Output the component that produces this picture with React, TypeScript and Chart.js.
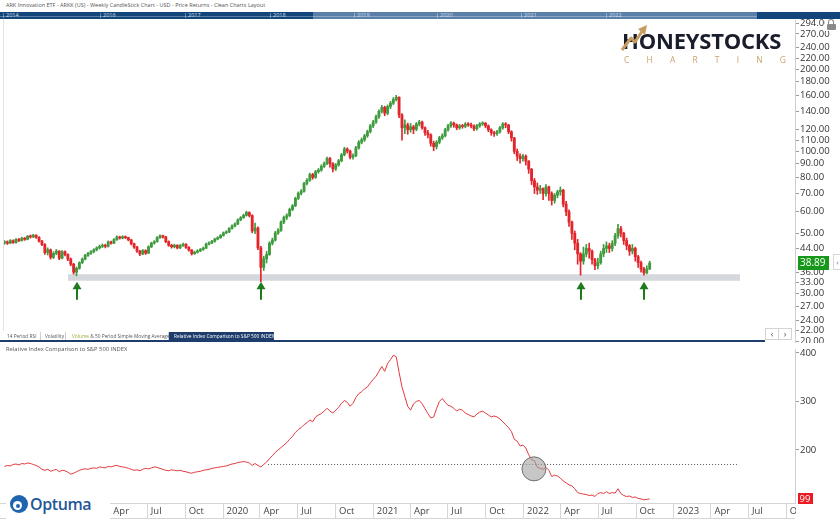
import React, { useEffect, useRef } from "react";
import { Chart, registerables } from "chart.js";

Chart.register(...registerables);

// ---------------- data ----------------
const FIRST_WEEK = 2018.546; // decimal year of first weekly candle
const WEEK = 7 / 365.25;

const opens = [
  46.0,46.5,46.0,47.0,46.2,47.5,47.0,48.0,47.5,48.8,
  48.5,49.2,48.3,46.8,45.5,42.5,43.5,40.8,42.2,43.0,
  40.5,42.8,41.8,40.2,38.5,36.0,37.2,39.0,40.2,41.5,
  42.2,42.8,43.5,44.2,44.8,45.2,44.8,46.5,46.0,47.4,
  48.5,48.0,48.6,48.2,47.3,45.8,44.5,43.0,42.0,43.2,
  42.3,44.6,46.0,46.6,48.2,49.0,48.5,46.6,45.2,44.6,
  45.2,44.2,45.1,45.6,44.4,43.4,42.1,42.6,43.1,43.6,
  44.1,45.6,46.1,46.7,47.6,48.2,49.1,50.2,50.6,52.1,
  53.2,54.1,56.0,57.1,58.2,59.6,58.1,51.0,52.3,44.2,
  37.5,40.3,41.8,46.0,47.2,50.1,51.2,55.0,57.2,58.1,
  61.2,63.1,67.2,70.1,71.3,76.2,78.3,82.1,80.2,84.2,
  85.3,88.1,90.2,94.1,90.0,86.2,89.1,92.3,97.1,102.0,
  100.1,95.2,96.3,103.0,108.0,110.2,114.0,118.1,124.0,128.2,
  134.0,140.2,145.0,138.1,146.0,150.2,155.0,158.0,136.0,122.0,
  125.0,120.0,123.0,120.5,126.0,128.0,122.0,117.0,115.0,107.0,
  104.0,108.0,112.0,114.0,120.0,124.0,127.0,125.0,122.0,124.0,
  123.5,126.0,125.0,124.0,121.0,124.0,126.0,127.0,124.0,120.0,
  117.0,116.0,118.0,122.0,126.0,125.0,118.0,112.0,100.0,96.0,
  94.0,96.0,92.0,86.0,78.0,74.0,72.0,73.0,70.0,74.0,
  70.0,66.0,69.0,71.0,72.0,64.0,60.0,55.0,50.0,46.0,
  42.0,39.5,42.0,44.0,43.0,40.0,38.0,39.0,42.0,44.0,
  45.0,44.0,46.0,49.0,52.0,50.0,47.0,45.0,43.0,44.0,
  41.0,39.0,37.0,35.8,37.0,
];
const highs = [
  47.0,46.9,47.4,47.3,47.8,47.9,48.4,48.3,49.1,49.3,
  49.6,49.4,48.6,47.1,45.8,44.2,43.8,42.8,43.6,43.2,
  43.2,43.1,42.0,40.6,38.8,37.6,39.3,40.6,41.9,42.6,
  43.2,43.9,44.6,45.3,45.7,45.6,46.9,46.8,47.8,48.9,
  48.8,49.0,48.9,48.4,47.5,46.0,44.8,43.3,43.6,43.5,
  45.0,46.4,47.0,48.6,49.4,49.3,48.8,46.9,45.6,45.6,
  45.4,45.5,46.0,45.8,44.7,43.6,43.0,43.5,44.0,44.5,
  46.0,46.5,47.1,48.0,48.6,49.5,50.6,51.1,52.5,53.7,
  54.6,56.5,57.6,58.8,60.3,60.0,58.5,54.5,52.8,44.8,
  41.2,42.9,46.6,48.0,50.8,52.0,55.6,57.9,59.0,61.9,
  63.8,67.9,70.9,72.3,77.0,79.4,83.2,83.0,85.1,86.5,
  89.2,91.5,95.3,95.0,91.0,90.2,93.4,98.2,103.5,103.0,
  101.0,98.0,104.2,109.5,112.0,115.5,119.6,125.5,130.0,135.8,
  142.0,147.5,146.5,148.0,152.5,157.5,160.5,158.5,137.5,130.5,
  127.0,126.5,124.5,127.5,130.0,129.0,123.0,119.5,116.0,109.0,
  109.5,113.5,116.0,121.5,125.5,128.5,128.0,126.0,125.5,125.5,
  127.5,127.5,127.0,125.0,125.5,127.5,128.5,127.5,125.0,121.0,
  118.5,119.5,123.5,127.5,127.5,125.5,119.0,112.5,102.0,98.0,
  97.5,97.0,92.5,86.5,79.5,76.5,75.0,73.5,75.5,74.5,
  71.0,70.0,72.0,74.0,72.5,65.5,61.0,55.5,51.0,47.5,
  42.5,44.5,45.5,46.0,43.5,40.5,40.5,43.0,45.5,46.5,
  46.0,47.0,50.0,54.0,53.0,50.5,48.0,45.5,45.5,44.5,
  41.5,39.5,37.5,38.0,39.5,
];
const lows = [
  45.6,45.5,45.8,45.9,46.0,46.6,46.8,47.1,47.3,48.0,
  48.2,47.9,46.4,45.0,41.8,41.6,40.2,40.4,41.7,40.0,
  40.3,41.3,39.7,38.0,35.4,34.9,36.9,38.7,39.9,41.1,
  41.8,42.4,43.1,43.8,44.3,44.2,44.5,45.6,45.8,47.1,
  47.6,47.7,47.8,46.9,45.3,44.0,42.5,41.4,41.7,41.8,
  42.1,44.3,45.6,46.4,47.9,48.0,46.2,44.8,44.1,44.2,
  43.8,43.9,44.8,44.0,43.0,41.6,41.8,42.3,42.8,43.3,
  43.9,45.3,45.8,46.4,47.3,47.9,48.8,49.8,50.3,51.8,
  52.8,53.8,55.6,56.7,57.8,57.4,50.2,49.8,43.5,33.2,
  36.5,38.9,41.5,45.3,46.8,49.5,50.8,54.3,56.2,57.6,
  60.5,62.6,66.5,69.2,70.8,75.2,77.6,79.0,79.6,83.1,
  84.5,87.2,89.4,87.5,84.0,85.0,88.2,91.5,96.2,98.5,
  93.8,93.5,95.5,101.8,106.5,108.8,112.5,116.8,122.2,126.5,
  132.0,138.2,135.0,136.2,143.5,148.5,153.0,133.0,110.0,116.0,
  115.5,117.5,116.0,119.0,124.0,120.5,114.5,112.0,104.5,100.5,
  102.0,106.5,110.5,113.0,118.5,122.5,122.5,120.0,120.5,121.5,
  122.0,123.5,122.0,119.0,119.5,122.5,124.5,122.0,118.0,114.5,
  113.5,114.5,116.5,120.5,122.0,116.0,109.0,98.0,92.5,90.5,
  92.0,89.0,83.0,75.5,70.0,69.5,70.0,66.5,68.5,66.0,
  63.5,64.5,67.5,69.0,62.5,58.0,53.0,47.5,43.5,38.5,
  35.1,38.5,41.0,40.5,38.5,36.8,37.0,38.5,41.0,42.5,
  42.5,43.0,45.0,48.0,48.5,45.5,43.5,41.5,42.0,39.5,
  37.5,36.0,35.1,35.5,36.8,
];
const closes = [
  46.5,46.0,47.0,46.2,47.5,47.0,48.0,47.5,48.8,48.5,
  49.2,48.3,46.8,45.5,42.5,43.5,40.8,42.2,43.0,40.5,
  42.8,41.8,40.2,38.5,36.0,37.2,39.0,40.2,41.5,42.2,
  42.8,43.5,44.2,44.8,45.2,44.8,46.5,46.0,47.4,48.5,
  48.0,48.6,48.2,47.3,45.8,44.5,43.0,42.0,43.2,42.3,
  44.6,46.0,46.6,48.2,49.0,48.5,46.6,45.2,44.6,45.2,
  44.2,45.1,45.6,44.4,43.4,42.1,42.6,43.1,43.6,44.1,
  45.6,46.1,46.7,47.6,48.2,49.1,50.2,50.6,52.1,53.2,
  54.1,56.0,57.1,58.2,59.6,58.1,51.0,52.3,44.2,37.5,
  40.3,41.8,46.0,47.2,50.1,51.2,55.0,57.2,58.1,61.2,
  63.1,67.2,70.1,71.3,76.2,78.3,82.1,80.2,84.2,85.3,
  88.1,90.2,94.1,90.0,86.2,89.1,92.3,97.1,102.0,100.1,
  95.2,96.3,103.0,108.0,110.2,114.0,118.1,124.0,128.2,134.0,
  140.2,145.0,138.1,146.0,150.2,155.0,158.0,136.0,122.0,125.0,
  120.0,123.0,120.5,126.0,128.0,122.0,117.0,115.0,107.0,104.0,
  108.0,112.0,114.0,120.0,124.0,127.0,125.0,122.0,124.0,123.5,
  126.0,125.0,124.0,121.0,124.0,126.0,127.0,124.0,120.0,117.0,
  116.0,118.0,122.0,126.0,125.0,118.0,112.0,100.0,96.0,94.0,
  96.0,92.0,86.0,78.0,74.0,72.0,73.0,70.0,74.0,70.0,
  66.0,69.0,71.0,72.0,64.0,60.0,55.0,50.0,46.0,42.0,
  39.5,42.0,44.0,43.0,40.0,38.0,39.0,42.0,44.0,45.0,
  44.0,46.0,49.0,52.0,50.0,47.0,45.0,43.0,44.0,41.0,
  39.0,37.0,35.8,37.0,38.89,
];
const relative = [
  166,168,167,170,171,169,172,171,173,172,
  170,168,165,160,158,160,156,158,160,155,
  158,157,154,150,152,155,158,160,161,160,
  162,163,162,165,164,163,166,165,167,168,
  166,165,164,162,160,158,159,157,160,162,
  161,163,165,164,162,160,158,157,159,158,
  157,158,156,155,153,152,154,155,156,158,
  159,160,162,163,164,165,166,167,169,171,
  172,174,175,176,175,173,168,172,168,165,
  170,175,182,188,195,200,205,210,215,222,
  228,236,242,246,252,256,262,258,268,272,
  275,280,286,280,276,282,288,296,302,298,
  290,296,308,316,320,326,330,338,345,352,
  362,372,362,378,386,395,392,360,330,310,
  290,282,295,300,302,295,285,275,266,268,
  285,300,306,298,292,290,286,280,284,282,
  276,273,270,268,274,278,280,276,272,268,
  270,268,264,258,252,246,238,222,218,208,
  210,204,190,180,178,164,162,160,164,158,
  145,148,146,142,136,132,128,126,120,112,
  110,109,108,106,107,104,110,112,110,114,
  110,112,111,120,110,106,104,105,102,103,
  100,99,97,98,99,
];

const priceTicks = [294, 270, 240, 220, 200, 180, 160, 140, 120, 110, 100, 90, 80, 70, 60, 50, 44, 36, 33, 30, 27, 24, 22, 20];
const relTicks = [200, 300, 400];
const axisDates = [2018.748, 2019.0, 2019.247, 2019.496, 2019.748, 2020.0, 2020.246, 2020.497, 2020.749, 2021.0, 2021.247, 2021.496, 2021.748, 2022.0, 2022.247, 2022.496, 2022.748, 2023.0, 2023.247, 2023.496, 2023.748];
const axisLabels = ["Oct", "2019", "Apr", "Jul", "Oct", "2020", "Apr", "Jul", "Oct", "2021", "Apr", "Jul", "Oct", "2022", "Apr", "Jul", "Oct", "2023", "Apr", "Jul", "Oct"];
const navYears = ["2014", "2016", "2017", "2018", "2019", "2020", "2021", "2022"];
const navYearPos = [6, 103, 188, 273, 357, 440, 524, 609];

const arrowWeeks = [25, 89, 200, 222];
const arrowTip = 33.2;
const supportLow = 33.5;
const supportHigh = 35.4;
const supportFrom = 2018.968;
const supportTo = 2023.44;
const relLevel = 170;
const relLevelFrom = 2020.3;
const relLevelTo = 2023.42;
const highlight = { x: 2022.069, y: 161 };
const lastPrice = 38.89;
const lastRel = 99;

const X_MIN = 2018.516;
const X_MAX = 2023.806;
const P_MIN = 19.78;
const P_MAX = 303.5;
const R_MIN = 90.6;
const R_MAX = 406.6;

// ---------------- styles ----------------
const UP = "#3e9b3e";
const DOWN = "#e2252b";
const FONT = "'Open Sans', sans-serif";
const axisFont = { family: FONT, size: 9.5 };

const weekX = (i: number) => FIRST_WEEK + i * WEEK;

const mainOverlay = {
  id: "mainOverlay",
  afterDatasetsDraw(chart: any) {
    const { ctx, scales } = chart;
    const tip = scales.y.getPixelForValue(arrowTip);
    ctx.save();
    ctx.fillStyle = "#1e7b1e";
    arrowWeeks.forEach((i) => {
      const px = Math.round(scales.x.getPixelForValue(weekX(i)));
      ctx.beginPath();
      ctx.moveTo(px, tip);
      ctx.lineTo(px - 4.5, tip + 7.5);
      ctx.lineTo(px + 4.5, tip + 7.5);
      ctx.closePath();
      ctx.fill();
      ctx.fillRect(px - 1, tip + 7, 2, 11);
    });
    ctx.restore();
  },
  afterDraw(chart: any) {
    const { ctx, chartArea, scales } = chart;
    const py = Math.round(scales.y.getPixelForValue(lastPrice));
    ctx.save();
    ctx.fillStyle = "#17981a";
    ctx.fillRect(chartArea.right + 3, py - 7, 31, 14);
    ctx.fillStyle = "#ffffff";
    ctx.font = `10px ${FONT}`;
    ctx.textBaseline = "middle";
    ctx.textAlign = "left";
    ctx.fillText(lastPrice.toFixed(2), chartArea.right + 5, py + 0.5);
    ctx.restore();
  },
};

const relOverlay = {
  id: "relOverlay",
  afterDraw(chart: any) {
    const { ctx, chartArea, scales } = chart;
    const xs = scales.x;
    ctx.save();
    ctx.font = `9.5px ${FONT}`;
    ctx.fillStyle = "#444";
    ctx.textBaseline = "middle";
    ctx.textAlign = "left";
    axisDates.forEach((d, k) => {
      const px = xs.getPixelForValue(d);
      ctx.fillText(axisLabels[k], px + 3.5, xs.top + 8);
    });
    const py = Math.round(scales.y.getPixelForValue(lastRel));
    ctx.fillStyle = "#ea1b23";
    ctx.fillRect(chartArea.right + 3, py - 6, 15, 12);
    ctx.fillStyle = "#ffffff";
    ctx.fillText(String(lastRel), chartArea.right + 4.5, py + 0.5);
    ctx.restore();
  },
};

export default function App() {
  const mainRef = useRef<HTMLCanvasElement>(null);
  const relRef = useRef<HTMLCanvasElement>(null);

  useEffect(() => {
    document.body.style.margin = "0";
    Chart.defaults.font.family = FONT;
    const colors = closes.map((c, i) => (c >= opens[i] ? UP : DOWN));

    const main = new Chart(mainRef.current as HTMLCanvasElement, {
      type: "bar",
      data: {
        datasets: [
          {
            type: "line",
            data: [
              { x: supportFrom, y: supportHigh },
              { x: supportTo, y: supportHigh },
            ],
            fill: { value: supportLow },
            backgroundColor: "#d4d7db",
            borderWidth: 0,
            pointRadius: 0,
            order: 5,
          } as any,
          {
            type: "bar",
            data: closes.map((c, i) => ({ x: weekX(i), y: [lows[i], highs[i]] })),
            backgroundColor: colors,
            barThickness: 1,
            grouped: false,
            order: 3,
          } as any,
          {
            type: "bar",
            data: closes.map((c, i) => ({ x: weekX(i), y: [opens[i], c] })),
            backgroundColor: colors,
            barThickness: 2.2,
            minBarLength: 1,
            grouped: false,
            order: 1,
          } as any,
        ],
      },
      options: {
        responsive: false,
        animation: false,
        devicePixelRatio: 1,
        events: [],
        layout: { autoPadding: false, padding: { top: 8, bottom: 19, left: 0, right: 0 } },
        plugins: { legend: { display: false }, tooltip: { enabled: false } },
        scales: {
          x: { type: "linear", min: X_MIN, max: X_MAX, offset: false, display: false },
          y: {
            type: "logarithmic",
            position: "right",
            min: P_MIN,
            max: P_MAX,
            afterFit: (s: any) => {
              s.width = 45;
            },
            afterBuildTicks: (s: any) => {
              s.ticks = priceTicks.map((v) => ({ value: v }));
            },
            ticks: {
              callback: (v: any) => Number(v).toFixed(2),
              font: axisFont,
              color: "#333",
              padding: 1,
              autoSkip: false,
            },
            grid: { drawOnChartArea: false, tickLength: 4, color: "#9a9a9a" },
            border: { display: true, color: "#d0d0d0" },
          },
        },
      } as any,
      plugins: [mainOverlay],
    });

    const rel = new Chart(relRef.current as HTMLCanvasElement, {
      type: "line",
      data: {
        datasets: [
          {
            data: [highlight],
            showLine: false,
            pointRadius: 12,
            pointBackgroundColor: "rgba(165,165,165,0.62)",
            pointBorderColor: "#6e6e6e",
            pointBorderWidth: 1,
            order: 1,
          } as any,
          {
            data: [
              { x: relLevelFrom, y: relLevel },
              { x: relLevelTo, y: relLevel },
            ],
            borderColor: "#555",
            borderWidth: 1,
            borderDash: [1, 2],
            pointRadius: 0,
            order: 2,
          } as any,
          {
            data: relative.map((v, i) => ({ x: weekX(i), y: v })),
            borderColor: "#e2393d",
            borderWidth: 1,
            pointRadius: 0,
            tension: 0,
            order: 3,
          } as any,
        ],
      },
      options: {
        responsive: false,
        animation: false,
        devicePixelRatio: 1,
        events: [],
        layout: { autoPadding: false, padding: { top: 2, bottom: 0, left: 0, right: 0 } },
        plugins: { legend: { display: false }, tooltip: { enabled: false } },
        scales: {
          x: {
            type: "linear",
            min: X_MIN,
            max: X_MAX,
            offset: false,
            afterFit: (s: any) => {
              s.height = 19;
            },
            afterBuildTicks: (s: any) => {
              s.ticks = axisDates.map((v) => ({ value: v }));
            },
            ticks: { display: false, autoSkip: false },
            grid: { drawOnChartArea: false, drawTicks: true, tickLength: 15, color: "#d6d6d6" },
            border: { display: true, color: "#d6d6d6" },
          },
          y: {
            type: "linear",
            position: "right",
            min: R_MIN,
            max: R_MAX,
            afterFit: (s: any) => {
              s.width = 45;
            },
            afterBuildTicks: (s: any) => {
              s.ticks = relTicks.map((v) => ({ value: v }));
            },
            ticks: { font: axisFont, color: "#333", padding: 1, autoSkip: false },
            grid: { drawOnChartArea: false, tickLength: 4, color: "#9a9a9a" },
            border: { display: true, color: "#d0d0d0" },
          },
        },
      } as any,
      plugins: [relOverlay],
    });

    return () => {
      main.destroy();
      rel.destroy();
    };
  }, []);

  const abs = (s: React.CSSProperties): React.CSSProperties => ({ position: "absolute", ...s });

  return (
    <div style={{ position: "relative", width: 840, height: 522, overflow: "hidden", background: "#fff", fontFamily: FONT }}>
      <div style={abs({ left: 6, top: 1, fontSize: 5.5, lineHeight: "9px", color: "#555", whiteSpace: "nowrap", zIndex: 5 })}>
        ARK Innovation ETF - ARKK (US) - Weekly CandleStick Chart - USD - Price Returns - Clean Charts Layout
      </div>

      {/* navigator */}
      <div style={abs({ left: 0, top: 12, width: 840, height: 7, background: "#12457a", zIndex: 5, overflow: "hidden" })}>
        <div style={abs({ left: 313, top: 0, width: 444, height: 7, background: "#5a7fa9" })} />
        <div style={abs({ left: 0, top: 4, width: 757, height: 1, background: "rgba(255,255,255,0.3)" })} />
        {navYears.map((y, k) => (
          <React.Fragment key={y}>
            <div style={abs({ left: navYearPos[k] - 3, top: 1, width: 1, height: 5, background: "rgba(255,255,255,0.35)" })} />
            <span style={abs({ left: navYearPos[k], top: 0, fontSize: 5.5, lineHeight: "7px", color: "#d3deeb" })}>{y}</span>
          </React.Fragment>
        ))}
      </div>

      <canvas ref={mainRef} width={840} height={350} style={abs({ left: 0, top: 12, zIndex: 1 })} />

      {/* left frame */}
      <div style={abs({ left: 3, top: 20, width: 1, height: 311, background: "#e3e3e3", zIndex: 2 })} />

      {/* HoneyStocks logo */}
      <div style={abs({ left: 622, top: 25, fontSize: 22, fontWeight: 700, color: "#1a1d2b", letterSpacing: "-0.2px", lineHeight: "30px", zIndex: 3 })}>
        HONEYSTOCKS
      </div>
      <svg width={40} height={32} style={abs({ left: 614, top: 22, zIndex: 4 })}>
        <polyline points="8,28 17,16 21,20 29,8" fill="none" stroke="#c79e5f" strokeWidth={3} strokeLinejoin="round" />
        <polygon points="33,3 24,7 31,13" fill="#c79e5f" />
      </svg>
      <div style={abs({ left: 624, top: 54, width: 162, display: "flex", justifyContent: "space-between", fontSize: 8.5, lineHeight: "11px", color: "#c9a46c", zIndex: 3 })}>
        {"CHARTING".split("").map((c, k) => (
          <span key={k}>{c}</span>
        ))}
      </div>

      {/* lock */}
      <div style={abs({ left: 825, top: 18, width: 12, height: 13, background: "#fff", zIndex: 4 })}>
        <div style={abs({ left: 3, top: 1, width: 4, height: 5, border: "1.5px solid #8a8a8a", borderBottom: "none", borderRadius: "3px 3px 0 0" })} />
        <div style={abs({ left: 1.5, top: 6, width: 9, height: 6, background: "#8a8a8a", borderRadius: 1 })} />
      </div>

      {/* collapse handle next to price label */}
      <div style={abs({ left: 833, top: 254, width: 7, height: 14, border: "1px solid #d6d6d6", borderRight: "none", background: "#fff", fontSize: 8, lineHeight: "13px", color: "#777", textAlign: "center", zIndex: 4 })}>‹</div>

      {/* tab strip */}
      <div style={abs({ left: 0, top: 340, width: 765, height: 1.5, background: "#1d3e6c", zIndex: 6 })} />
      <div style={abs({ left: 3, top: 332, height: 8, display: "flex", fontSize: 4.8, lineHeight: "8px", color: "#555", zIndex: 6, background: "#fff", whiteSpace: "nowrap" })}>
        <div style={{ width: 33, paddingLeft: 4, borderRight: "1px solid #cfcfcf" }}>14 Period RSI</div>
        <div style={{ width: 20, paddingLeft: 4, borderRight: "1px solid #cfcfcf" }}>Volatility</div>
        <div style={{ width: 96, paddingLeft: 6, borderRight: "1px solid #cfcfcf" }}>
          <span style={{ color: "#a9a53a" }}>Volume</span> &amp; 50 Period Simple Moving Average
        </div>
        <div style={{ width: 100, paddingLeft: 5, background: "#1d3e6c", color: "#fff" }}>Relative Index Comparison to S&amp;P 500 INDEX</div>
      </div>
      <div style={abs({ left: 765, top: 328, width: 27, height: 12, border: "1px solid #d3d3d3", boxSizing: "border-box", background: "#fff", display: "flex", fontSize: 9, lineHeight: "10px", color: "#555", zIndex: 6 })}>
        <div style={{ flex: 1, textAlign: "center", borderRight: "1px solid #d3d3d3" }}>‹</div>
        <div style={{ flex: 1, textAlign: "center" }}>›</div>
      </div>

      {/* lower panel */}
      <div style={abs({ left: 0, top: 343, width: 840, height: 179, background: "#fff", zIndex: 3 })}>
        <canvas ref={relRef} width={840} height={179} style={abs({ left: 0, top: 0 })} />
      </div>
      <div style={abs({ left: 6, top: 345, fontSize: 5.8, lineHeight: "8px", color: "#555", whiteSpace: "nowrap", zIndex: 5 })}>
        Relative Index Comparison to S&amp;P 500 INDEX
      </div>
      <div style={abs({ left: 0, top: 518, width: 795, height: 1, background: "#d6d6d6", zIndex: 5 })} />
      <div style={abs({ left: 796, top: 504, width: 44, height: 18, background: "#fff", zIndex: 5 })} />

      {/* Optuma logo */}
      <div style={abs({ left: 6, top: 492, width: 104, height: 28, background: "#fff", zIndex: 6 })}>
        <div style={abs({ left: 4, top: 3, width: 18, height: 18, borderRadius: "50%", background: "#1f64ae" })}>
          <div style={abs({ left: 3, top: 6, width: 9, height: 9, borderRadius: "50%", background: "#fff" })} />
          <div style={abs({ left: 5.5, top: 8.5, width: 4, height: 4, borderRadius: "50%", background: "#1f64ae" })} />
        </div>
        <div style={abs({ left: 24, top: 1, fontSize: 16, fontWeight: 600, letterSpacing: "-0.4px", lineHeight: "22px", color: "#1e5797" })}>Optuma</div>
      </div>
    </div>
  );
}
